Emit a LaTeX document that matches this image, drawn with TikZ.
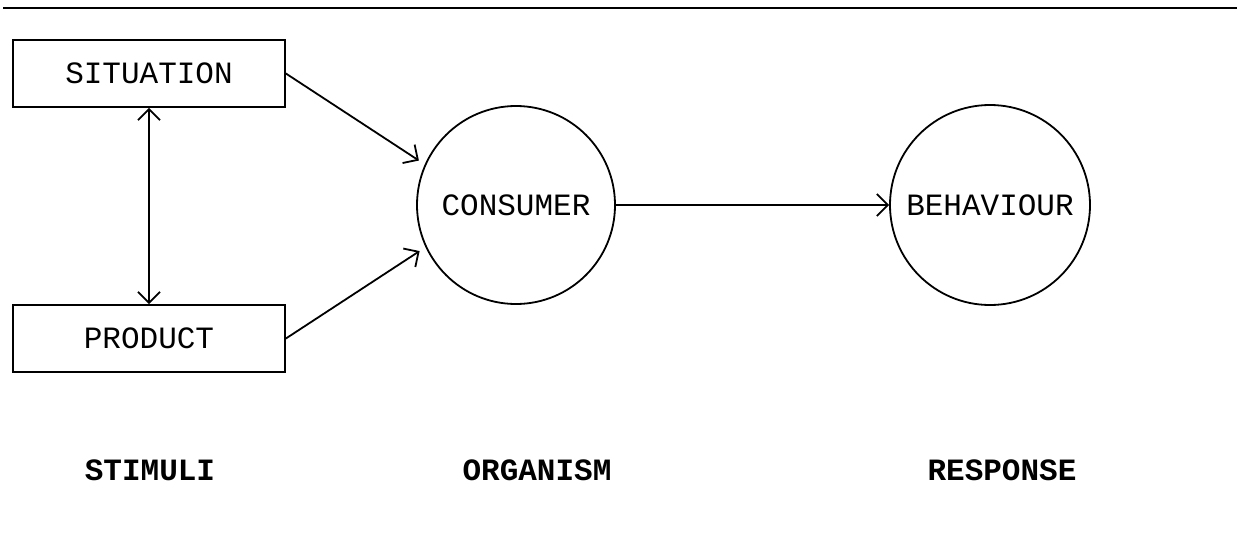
\documentclass[tikz,border=0pt]{standalone}
\usepackage{fontspec}
\setmonofont{Liberation Mono}
\usetikzlibrary{arrows.meta}
\begin{document}
\begin{tikzpicture}[x=1pt,y=-1pt,
  every node/.style={font=\ttfamily\fontsize{31}{36}\selectfont},
  barb/.tip={Straight Barb[length=11pt,width=22pt,line width=1.8pt]},
  box/.style={draw,line width=1.8pt,minimum width=272pt,minimum height=67pt,inner sep=0pt},
  disc/.style={draw,circle,line width=1.8pt,inner sep=0pt},
  link/.style={line width=1.8pt,-barb},
  twoway/.style={line width=1.6pt,barb-barb},
  heading/.style={font=\ttfamily\bfseries\fontsize{31}{36}\selectfont}]
  \useasboundingbox (0,0) rectangle (1237,533);
  % rule across the top
  \coordinate (ruleL) at (3,8);
  \coordinate (ruleR) at (1237,8);
  \draw[line width=2.2pt] (ruleL) -- (ruleR);
  % stimuli boxes
  \node[box] (sit) at (149,73.5) {SITUATION};
  \node[box] (prod) at (149,338.5) {PRODUCT};
  % organism and response
  \node[disc,minimum size=198pt] (cons) at (516,205) {CONSUMER};
  \node[disc,minimum size=200pt] (beh) at (990,205) {BEHAVIOUR};
  % connectors
  \draw[twoway] (sit.south) -- (prod.north);
  \draw[link,shorten >=7pt] (sit.east) -- (cons.156);
  \draw[link,shorten >=7pt] (prod.east) -- (cons.205);
  \draw[link] (cons.east) -- (beh.west);
  % column headings
  \node[heading] (stim) at (150,470) {STIMULI};
  \node[heading] (org) at (537,470) {ORGANISM};
  \node[heading] (resp) at (1002,470) {RESPONSE};
\end{tikzpicture}
\end{document}
